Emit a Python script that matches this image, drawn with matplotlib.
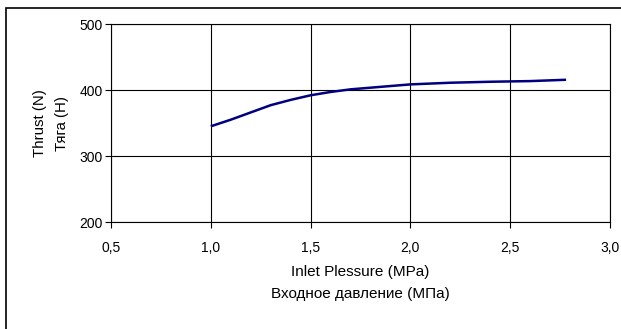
import matplotlib
matplotlib.use("Agg")
import matplotlib.pyplot as plt
from matplotlib.patches import Rectangle
import numpy as np

pressure = [1.0, 1.1, 1.2, 1.3, 1.4, 1.5, 1.6, 1.7, 1.8, 2.0, 2.2, 2.4, 2.6, 2.78]
thrust = [345, 355, 366, 377, 385, 392, 397, 401, 403.5, 408.5, 411, 412.5, 413.5, 415.5]
xticks = [0.5, 1.0, 1.5, 2.0, 2.5, 3.0]
xticklabels = ["0,5", "1,0", "1,5", "2,0", "2,5", "3,0"]
yticks = [200, 300, 400, 500]

plt.rcParams['font.family'] = ['Liberation Sans', 'DejaVu Sans']

W, H = 621, 329
fig = plt.figure(figsize=(W / 100, H / 100), dpi=100)
ax = fig.add_axes([111 / W, 1 - 222 / H, (610 - 111) / W, (222 - 24) / H])

ax.plot(pressure, thrust, color="#000080", lw=1.8, solid_capstyle="butt")
ax.set_xlim(0.5, 3.0)
ax.set_ylim(200, 500)
ax.set_xticks(xticks)
ax.set_xticklabels(xticklabels)
ax.set_yticks(yticks)
ax.grid(True, color="black", lw=0.8)
for s in ax.spines.values():
    s.set_color("black")
    s.set_linewidth(0.8)
ax.tick_params(direction="out", length=4, width=0.8, labelsize=10)
ax.tick_params(axis="x", pad=10)
ax.tick_params(axis="y", pad=2)

cx = (111 + 610) / 2 / W
fig.text(cx, 1 - 272 / H, "Inlet Plessure (MPa)", fontsize=11, ha="center", va="center")
fig.text(cx, 1 - 294 / H, "Входное давление (МПа)", fontsize=11, ha="center", va="center")
cy = 1 - 123 / H
fig.text(40 / W, cy, "Thrust (N)", fontsize=10.8, ha="center", va="center", rotation=90)
fig.text(62 / W, cy, "Тяга (Н)", fontsize=10.8, ha="center", va="center", rotation=90)

fig.patches.append(Rectangle((5.5 / W, -0.1), 1.2, 1 - 8 / H + 0.1, transform=fig.transFigure,
                             fill=False, edgecolor="black", lw=1.2))

fig.savefig("out.png", dpi=100)
